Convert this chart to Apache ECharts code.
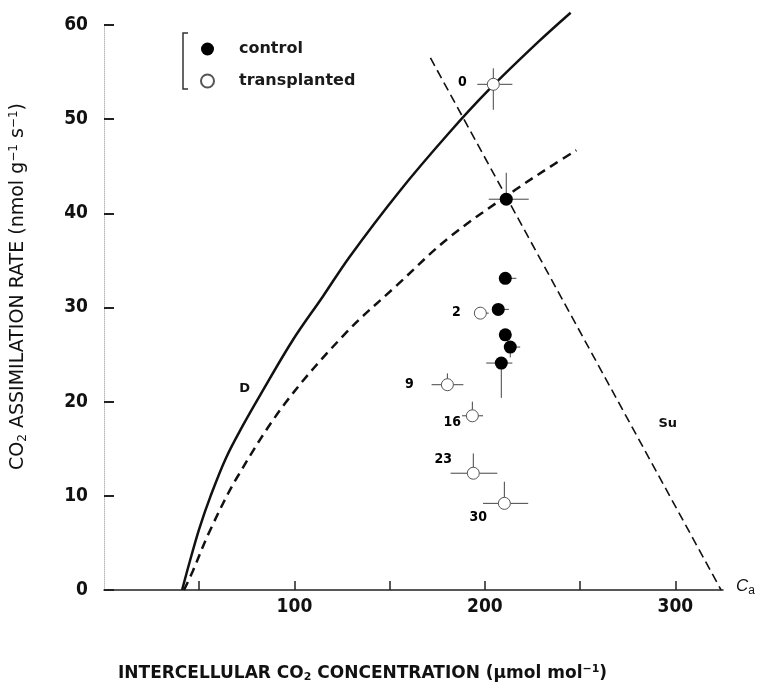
<!DOCTYPE html>
<html>
<head>
<meta charset="utf-8">
<script src="https://cdn.jsdelivr.net/npm/echarts@6/dist/echarts.min.js"></script>
<style>
  html, body { margin: 0; padding: 0; background: #fff; }
  #chart { width: 760px; height: 693px; }
</style>
</head>
<body>
<div id="chart"></div>
<script>
// curves: [ci, A]
const curveD = [[41, 0], [45, 3], [50, 6.5], [56, 10], [64, 14], [73, 17.5], [82, 20.7], [99, 26.5], [115, 31.2], [129, 35.4], [155, 42.3], [181, 48.5], [202, 53.1], [228, 58.2], [245, 61.3]];
const curveDashed = [[42, 0], [46.6, 2], [55.6, 6.3], [70, 12], [95, 19.8], [127, 27.3], [154, 32.4], [181, 37.4], [216, 42.5], [237, 45.3], [248, 46.7]];
const supplyLine = [[171.4, 56.5], [324, 0]];

// points [ci, A]
const controlPts = [[211.2, 41.5], [210.7, 33.1], [207, 29.8], [210.7, 27.1], [213.3, 25.8], [208.6, 24.1]];
const transplantedPts = [[204.4, 53.7], [197.6, 29.4], [180.3, 21.8], [193.4, 18.5], [193.9, 12.4], [210.2, 9.2]];
const transplantedDays = ['0', '2', '9', '16', '23', '30'];

// error bars [xLo, xHi, yLo, yHi]
const controlErr = [[202, 223, 41.5, 44.3], [210.7, 216.5, 33.1, 33.1], [207, 212.6, 29.8, 29.8], [210.7, 210.7, 27.1, 27.1], [213.3, 218.5, 24.7, 25.8], [200.7, 214.4, 20.4, 24.1]];
const transplantedErr = [[196, 214.4, 51, 55.4], [197.6, 202, 29.4, 29.4], [172, 188.7, 21.8, 23], [188, 199, 18.5, 20], [182, 206.5, 12.4, 14.5], [199, 222.7, 9.2, 11.5]];

const xTicks = [50, 100, 150, 200, 250, 300];
const xLabels = [100, 200, 300];
const yTicks = [0, 10, 20, 30, 40, 50, 60];

// label offsets for the day numbers (px, relative to each open circle)
const dayOffsets = [[-31, -2], [-24, -1], [-38, 0], [-20, 7], [-30, -14], [-26, 14]];

const INK = '#111';
const TICK_FONT = { fontFamily: 'DejaVu Sans Condensed', fontWeight: 'bold', fontSize: 19, color: INK };

const chart = echarts.init(document.getElementById('chart'), null, { renderer: 'canvas' });

function errBarSeries(name, pts, err) {
  return {
    name,
    type: 'custom',
    data: err,
    silent: true,
    z: 3,
    renderItem: (params, api) => {
      const d = err[params.dataIndex];
      const p = pts[params.dataIndex];
      const lineStyle = { stroke: '#444', lineWidth: 1 };
      const children = [];
      if (d[0] !== d[1]) {
        const a = api.coord([d[0], p[1]]);
        const b = api.coord([d[1], p[1]]);
        children.push({ type: 'line', shape: { x1: a[0], y1: a[1], x2: b[0], y2: b[1] }, style: lineStyle });
      }
      if (d[2] !== d[3]) {
        const a = api.coord([p[0], d[2]]);
        const b = api.coord([p[0], d[3]]);
        children.push({ type: 'line', shape: { x1: a[0], y1: a[1], x2: b[0], y2: b[1] }, style: lineStyle });
      }
      return { type: 'group', children };
    },
  };
}

const option = {
  animation: false,
  backgroundColor: '#fff',
  grid: { left: 104, right: 37, top: 25, bottom: 103 },
  legend: {
    orient: 'vertical',
    left: 195,
    top: 36,
    itemGap: 16,
    itemWidth: 13,
    itemHeight: 13,
    data: ['control', 'transplanted'],
    textStyle: { fontFamily: 'DejaVu Sans', fontWeight: 'bold', fontSize: 16, color: '#1a1a1a', padding: [0, 0, 0, 20] },
  },
  graphic: [
    {
      type: 'polyline',
      shape: { points: [[188, 33], [183, 33], [183, 89], [188, 89]] },
      style: { stroke: '#333', lineWidth: 1.5, fill: null },
    },
    {
      type: 'text',
      left: 118,
      top: 664,
      style: {
        text: 'INTERCELLULAR CO{sub|2} CONCENTRATION (µmol mol{sup|−1})',
        font: 'bold 17px "DejaVu Sans"',
        fill: INK,
        rich: {
          sub: { fontFamily: 'DejaVu Sans', fontWeight: 'bold', fontSize: 11, fill: INK, padding: [8, 0, 0, 0] },
          sup: { fontFamily: 'DejaVu Sans', fontWeight: 'bold', fontSize: 11, fill: INK, padding: [0, 0, 8, 0] },
        },
      },
    },
    {
      type: 'text',
      left: 736,
      top: 578,
      style: {
        text: '{c|C}{s|a}',
        rich: {
          c: { fontFamily: 'Liberation Sans', fontStyle: 'italic', fontSize: 17, fill: INK },
          s: { fontFamily: 'Liberation Sans', fontSize: 12, fill: INK, padding: [8, 0, 0, 0] },
        },
      },
    },
  ],
  xAxis: {
    type: 'value',
    min: 0,
    max: 325,
    axisLine: { lineStyle: { color: '#222', width: 1.5 } },
    axisTick: { inside: true, length: 9, customValues: xTicks, lineStyle: { color: '#222', width: 1.5 } },
    axisLabel: { customValues: xLabels, margin: 8, ...TICK_FONT },
    splitLine: { show: false },
  },
  yAxis: {
    type: 'value',
    min: 0,
    max: 60,
    name: 'CO{sub|2} ASSIMILATION RATE (nmol g{sup|−1} s{sup|−1})',
    nameLocation: 'middle',
    nameGap: 75,
    nameRotate: 90,
    nameTextStyle: {
      fontFamily: 'DejaVu Sans', fontSize: 19, color: INK, padding: [0, 0, 0, 42],
      rich: {
        sub: { fontFamily: 'DejaVu Sans', fontSize: 12, color: INK, padding: [9, 0, 0, 0] },
        sup: { fontFamily: 'DejaVu Sans', fontSize: 12, color: INK, padding: [0, 0, 9, 0] },
      },
    },
    axisLine: { show: true, lineStyle: { color: '#bbb', width: 1, type: 'dotted' } },
    axisTick: { inside: true, length: 10, customValues: yTicks, lineStyle: { color: '#222', width: 2 } },
    axisLabel: { customValues: yTicks, margin: 16, ...TICK_FONT },
    splitLine: { show: false },
  },
  series: [
    {
      name: 'D',
      type: 'line',
      data: curveD,
      smooth: 0.35,
      showSymbol: false,
      clip: false,
      silent: true,
      lineStyle: { color: INK, width: 2.5 },
      markPoint: {
        symbol: 'circle',
        symbolSize: 1,
        itemStyle: { color: 'transparent' },
        label: { show: true, position: 'inside', formatter: 'D', fontFamily: 'DejaVu Sans', fontWeight: 'bold', fontSize: 13, color: INK },
        data: [{ coord: [73.9, 21.4] }],
      },
    },
    {
      name: 'dashed',
      type: 'line',
      data: curveDashed,
      smooth: 0.35,
      showSymbol: false,
      clip: false,
      silent: true,
      lineStyle: { color: INK, width: 2.5, type: [9, 6] },
    },
    {
      name: 'Su',
      type: 'line',
      data: supplyLine,
      showSymbol: false,
      silent: true,
      lineStyle: { color: INK, width: 1.6, type: [9, 5] },
      markPoint: {
        symbol: 'circle',
        symbolSize: 1,
        itemStyle: { color: 'transparent' },
        label: { show: true, position: 'inside', formatter: 'Su', fontFamily: 'DejaVu Sans', fontWeight: 'bold', fontSize: 13, color: INK },
        data: [{ coord: [296, 17.7] }],
      },
    },
    errBarSeries('errControl', controlPts, controlErr),
    errBarSeries('errTransplanted', transplantedPts, transplantedErr),
    {
      name: 'control',
      type: 'scatter',
      data: controlPts,
      symbol: 'circle',
      symbolSize: 13,
      z: 5,
      itemStyle: { color: '#000', opacity: 1 },
    },
    {
      name: 'transplanted',
      type: 'scatter',
      data: transplantedPts.map((p, i) => ({
        value: p,
        label: {
          show: true,
          formatter: transplantedDays[i],
          position: 'inside',
          offset: dayOffsets[i],
          color: '#000',
        },
      })),
      symbol: 'circle',
      symbolSize: 12,
      z: 5,
      itemStyle: { color: '#fff', borderColor: '#555', borderWidth: 1, opacity: 1 },
      label: { fontFamily: 'DejaVu Sans Condensed', fontWeight: 'bold', fontSize: 14, color: '#000' },
    },
  ],
};

chart.setOption(option);
</script>
</body>
</html>
